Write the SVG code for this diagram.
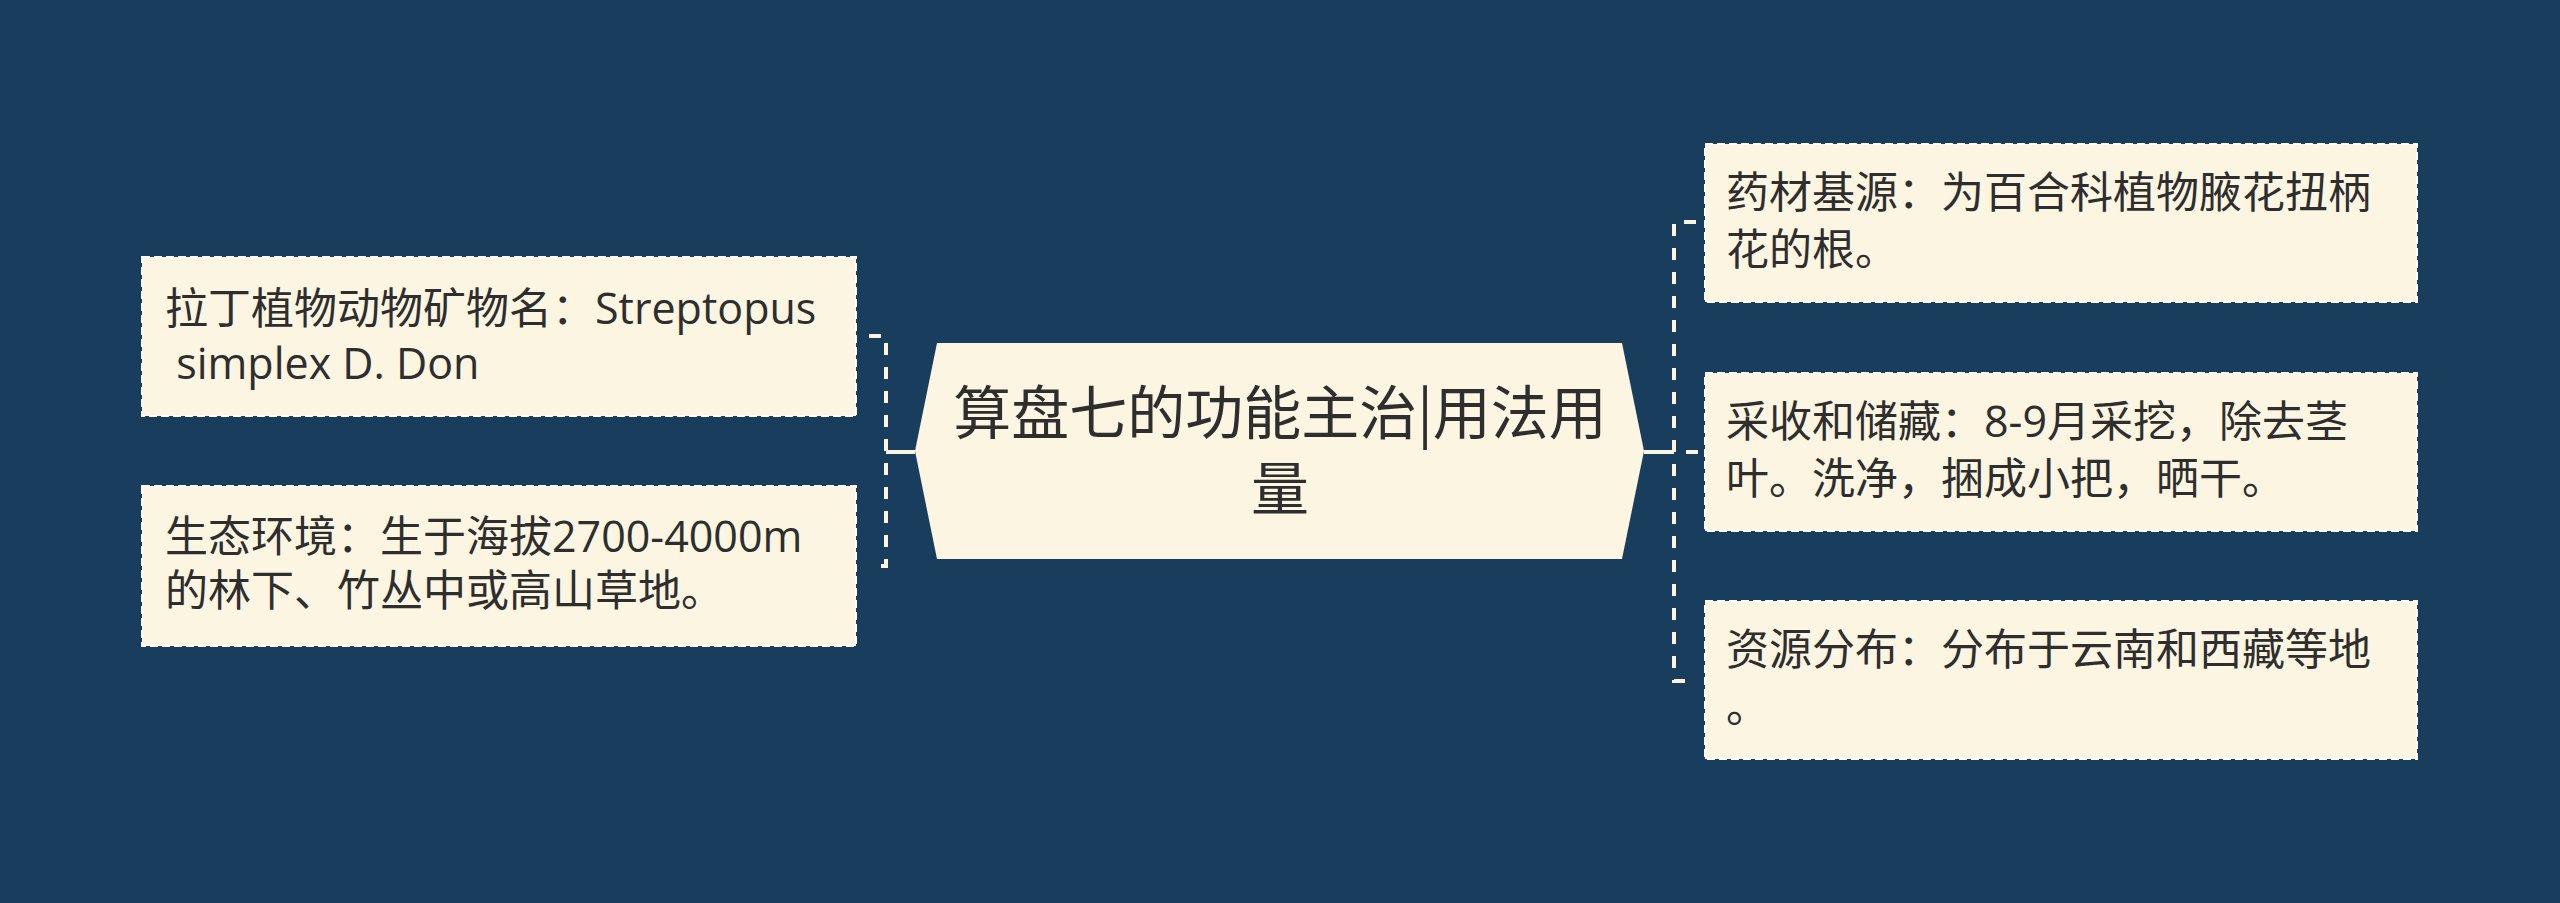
<svg xmlns="http://www.w3.org/2000/svg" width="2560" height="903" viewBox="0 0 2560 903">
<style>
.bg{fill:#183d5d}
.box{fill:#fbf5e1;stroke:#ffffff;stroke-width:2;stroke-dasharray:8 4}
.t{font-family:"Open Sans","Noto Sans CJK SC",sans-serif;font-size:43px;fill:#2e2e2e}
.ct{font-family:"Noto Sans CJK SC",sans-serif;font-size:58px;fill:#2e2e2e;text-anchor:middle}
.dash{fill:none;stroke:#fbf5e1;stroke-width:4;stroke-dasharray:12 12}
.solid{fill:none;stroke:#fbf5e1;stroke-width:4}
</style>
<rect class="bg" x="0" y="0" width="2560" height="903"/>
<g id="connectors">
<path class="solid" d="M915 452 H886"/>
<path class="dash" d="M869 336 H886 V566 H869"/>
<path class="solid" d="M1644 452 H1674"/>
<path class="dash" d="M1696 222 H1674 V681 H1696"/>
<path class="dash" d="M1674 452 H1704" stroke-dashoffset="-12"/>
</g>
<g id="center">
<polygon points="915,451 937,343 1622,343 1644,451 1622,559 937,559" fill="#fbf5e1"/>
<text class="ct" x="1280" y="434">算盘七的功能主治|用法用</text>
<text class="ct" x="1280" y="510">量</text>
</g>
<g id="left1">
<rect class="box" x="142" y="257" width="714" height="159"/>
<text class="t" x="165" y="324">拉丁植物动物矿物名：Streptopus</text>
<text class="t" x="165" y="379" xml:space="preserve"> simplex D. Don</text>
</g>
<g id="left2">
<rect class="box" x="142" y="486" width="714" height="160"/>
<text class="t" x="165" y="552">生态环境：生于海拔2700-4000m</text>
<text class="t" x="165" y="606">的林下、竹丛中或高山草地。</text>
</g>
<g id="right1">
<rect class="box" x="1705" y="144" width="712" height="158"/>
<text class="t" x="1726" y="208">药材基源：为百合科植物腋花扭柄</text>
<text class="t" x="1726" y="265">花的根。</text>
</g>
<g id="right2">
<rect class="box" x="1705" y="373" width="712" height="158"/>
<text class="t" x="1726" y="437">采收和储藏：8-9月采挖，除去茎</text>
<text class="t" x="1726" y="494">叶。洗净，捆成小把，晒干。</text>
</g>
<g id="right3">
<rect class="box" x="1705" y="601" width="712" height="158"/>
<text class="t" x="1726" y="665">资源分布：分布于云南和西藏等地</text>
<text class="t" x="1726" y="722">。</text>
</g>
</svg>
